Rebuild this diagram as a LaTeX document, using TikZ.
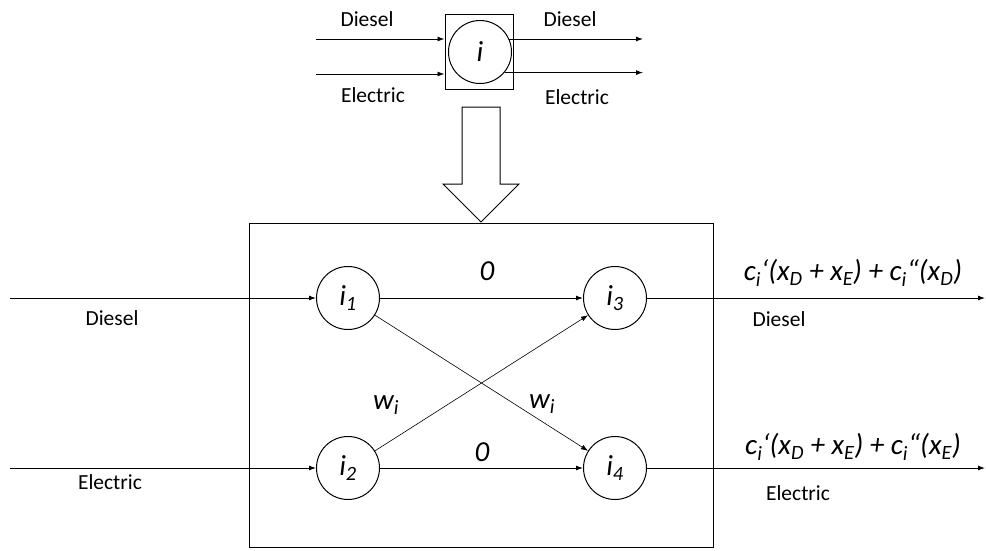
\documentclass[tikz,border=0pt]{standalone}
\usepackage{fontspec}
\setmainfont{Carlito}
\usepackage{tikz}
\usetikzlibrary{positioning, arrows.meta, calc}

\tikzset{
  flownode/.style={circle, draw, line width=1pt, minimum size=63pt, inner sep=0pt,
                   font=\itshape\fontsize{29}{31}\selectfont},
  flowline/.style={line width=0.9pt, -{Latex[length=7pt,width=5pt]}},
  crossline/.style={line width=0.6pt, -{Latex[length=7pt,width=5pt]}},
  fuellabel/.style={font=\fontsize{21.5}{23}\selectfont},
  costlabel/.style={font=\itshape\fontsize{29}{31}\selectfont}
}

\begin{document}
\begin{tikzpicture}[x=1pt, y=-1pt]
  \useasboundingbox (0,0) rectangle (986,550);

  % single node i
  \node[draw, line width=1pt, minimum width=68pt, minimum height=75pt] (topbox) at (479,52) {};
  \node[flownode] (topi) at (480,52) {i};
  \coordinate (topdin) at (316,39);
  \coordinate (topein) at (316,74);
  \coordinate (topdout) at (643,39);
  \coordinate (topeout) at (643,74);
  \draw[flowline] (topdin) -- (topdin -| topbox.west);
  \draw[flowline] (topein) -- (topein -| topbox.west);
  \draw[flowline] (topi.24) -- (topi.24 -| topdout);
  \draw[flowline] (topi.-40) -- (topi.-40 -| topeout);
  \node[fuellabel] (topdinlab) at (367,19) {Diesel};
  \node[fuellabel] (topeinlab) at (373,95) {Electric};
  \node[fuellabel] (topdoutlab) at (570,19) {Diesel};
  \node[fuellabel] (topeoutlab) at (577,97) {Electric};

  % expansion arrow
  \draw[line width=1pt, fill=white] (462,107) -- (500,107) -- (500,184) -- (519,184)
    -- (481,222) -- (443,184) -- (462,184) -- cycle;

  % expanded network
  \draw[line width=1pt] (249,223) rectangle (713,547);
  \node[flownode] (i1) at (348,298) {i\textsubscript{1}};
  \node[flownode] (i2) at (348,468) {i\textsubscript{2}};
  \node[flownode] (i3) at (615,298) {i\textsubscript{3}};
  \node[flownode] (i4) at (615,468) {i\textsubscript{4}};

  \coordinate (din) at (10,298);
  \coordinate (ein) at (10,468);
  \coordinate (dout) at (985,298);
  \coordinate (eout) at (985,468);

  \draw[flowline] (din) -- (i1);
  \draw[flowline] (ein) -- (i2);
  \draw[flowline] (i1) -- (i3);
  \draw[flowline] (i2) -- (i4);
  \draw[crossline] (i1) -- (i4);
  \draw[crossline] (i2) -- (i3);
  \draw[flowline] (i3) -- (dout);
  \draw[flowline] (i4) -- (eout);

  \node[costlabel] (zero13) at (487,271) {0};
  \node[costlabel] (zero24) at (482,452) {0};
  \node[costlabel] (w23) at (386,405) {w\textsubscript{i}};
  \node[costlabel] (w14) at (542,404) {w\textsubscript{i}};

  \node[fuellabel] (dinlab) at (112,318) {Diesel};
  \node[fuellabel] (einlab) at (110,482) {Electric};
  \node[fuellabel] (doutlab) at (779,319) {Diesel};
  \node[fuellabel] (eoutlab) at (798,493) {Electric};

  \node[costlabel] (dcost) at (853,273)
    {c\textsubscript{i}‘(x\textsubscript{D} + x\textsubscript{E}) + c\textsubscript{i}“(x\textsubscript{D})};
  \node[costlabel] (ecost) at (853,447)
    {c\textsubscript{i}‘(x\textsubscript{D} + x\textsubscript{E}) + c\textsubscript{i}“(x\textsubscript{E})};
\end{tikzpicture}
\end{document}
